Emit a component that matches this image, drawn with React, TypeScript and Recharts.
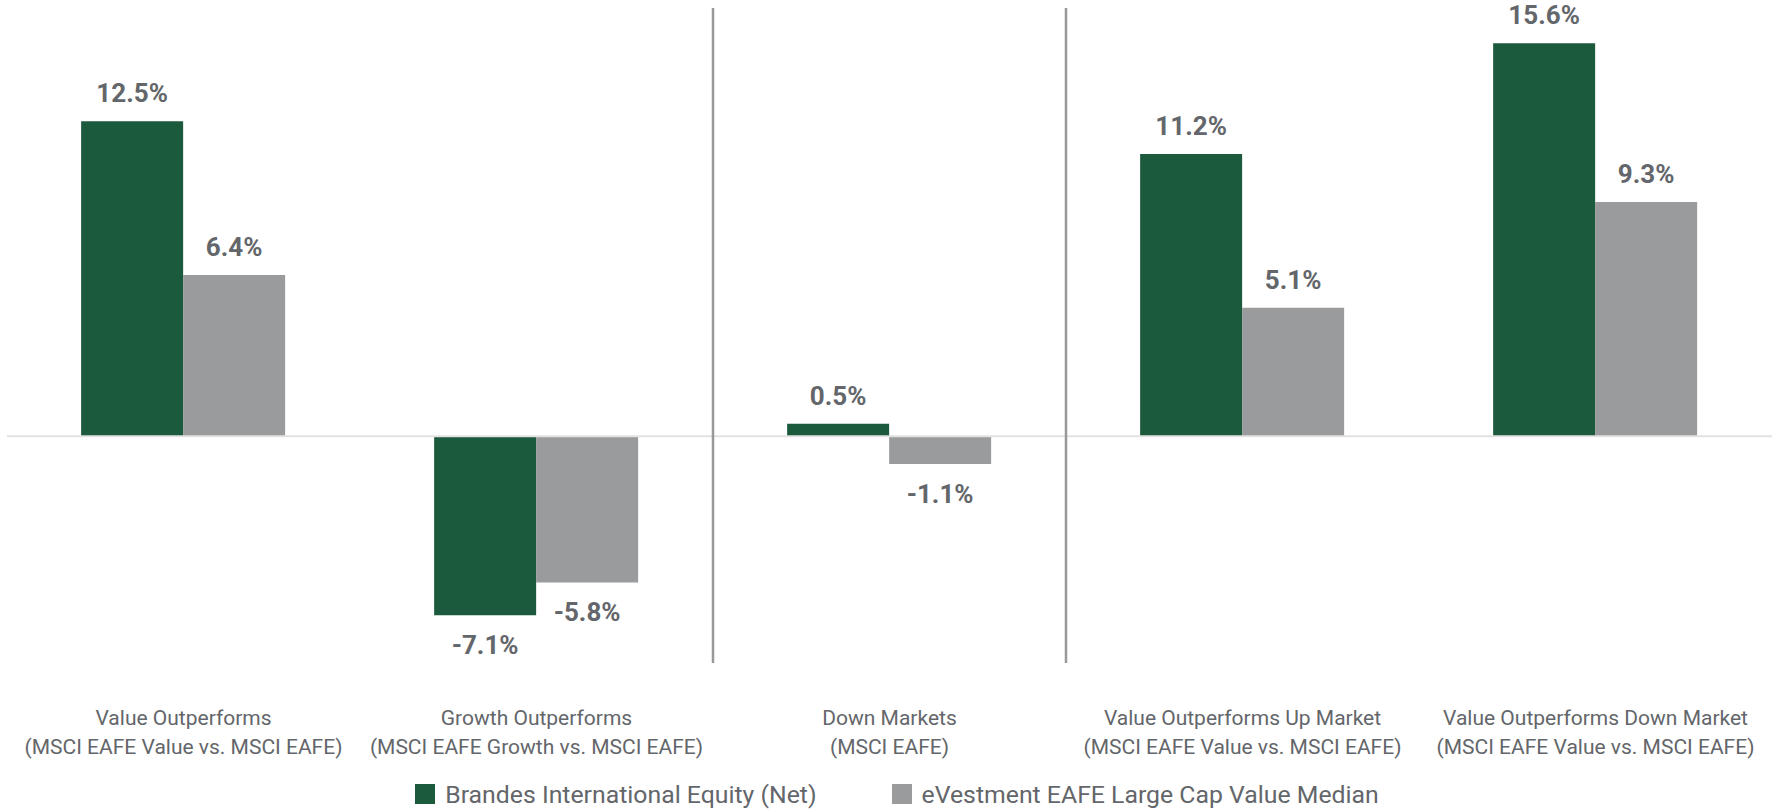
import React from "react";
import {
    Bar,
    BarChart,
    LabelList,
    Legend,
    ReferenceLine,
    XAxis,
    YAxis,
} from "recharts";

const categoryTitles = [
    "Value Outperforms",
    "Growth Outperforms",
    "Down Markets",
    "Value Outperforms Up Market",
    "Value Outperforms Down Market",
];

const categorySubtitles = [
    "(MSCI EAFE Value vs. MSCI EAFE)",
    "(MSCI EAFE Growth vs. MSCI EAFE)",
    "(MSCI EAFE)",
    "(MSCI EAFE Value vs. MSCI EAFE)",
    "(MSCI EAFE Value vs. MSCI EAFE)",
];

const brandesValues = [12.5, -7.1, 0.5, 11.2, 15.6];
const medianValues = [6.4, -5.8, -1.1, 5.1, 9.3];

const seriesNames = [
    "Brandes International Equity (Net)",
    "eVestment EAFE Large Cap Value Median",
];

// dividers drawn at the left edge of these categories
const separatorBefore = [categoryTitles[2], categoryTitles[3]];

const GREEN = "#1c5a3e";
const GRAY = "#9a9b9c";
const TEXT = "#63666a";

const chartData = categoryTitles.map((title, i) => ({
    name: title,
    brandes: brandesValues[i],
    median: medianValues[i],
}));

function CategoryTick(props: any) {
    const { x, y, payload } = props;
    const idx = categoryTitles.indexOf(payload.value);
    return (
        <text
            x={x}
            y={y}
            textAnchor="middle"
            fill={TEXT}
            fontSize={21}
            fontFamily="Roboto, sans-serif"
        >
            <tspan x={x} dy={62}>
                {categoryTitles[idx]}
            </tspan>
            <tspan x={x} dy={28.5}>
                {categorySubtitles[idx]}
            </tspan>
        </text>
    );
}

function ValueLabel(props: any) {
    const { x, y, width, height, value } = props;
    const top = Math.min(y, y + height);
    const bottom = Math.max(y, y + height);
    const cx = x + width / 2;
    const ty = value >= 0 ? top - 19 : bottom + 39;
    return (
        <text
            x={cx}
            y={ty}
            textAnchor="middle"
            fill={TEXT}
            fontSize={26}
            fontWeight={700}
            fontFamily="Roboto, sans-serif"
        >
            {value.toFixed(1)}%
        </text>
    );
}

function ChartLegend() {
    const colors = [GREEN, GRAY];
    return (
        <div
            style={{
                height: 30,
                display: "flex",
                justifyContent: "center",
                alignItems: "center",
                gap: 75,
                paddingLeft: 15,
                fontFamily: "Roboto, sans-serif",
                fontSize: 24.8,
                color: TEXT,
            }}
        >
            {seriesNames.map((name, i) => (
                <div
                    key={name}
                    style={{ display: "flex", alignItems: "center", gap: 10 }}
                >
                    <span
                        style={{
                            width: 20,
                            height: 20,
                            background: colors[i],
                            display: "inline-block",
                        }}
                    />
                    <span>{name}</span>
                </div>
            ))}
        </div>
    );
}

export default function App() {
    return (
        <div
            style={{
                position: "absolute",
                left: 0,
                top: 0,
                width: 1777,
                height: 809,
                background: "#ffffff",
            }}
        >
            <BarChart
                width={1777}
                height={809}
                data={chartData}
                margin={{ top: 8, right: 5, left: 7, bottom: 0 }}
                barCategoryGap="21%"
                barGap={0}
            >
                <XAxis
                    dataKey="name"
                    height={116}
                    axisLine={false}
                    tickLine={false}
                    tickSize={0}
                    tickMargin={0}
                    interval={0}
                    tick={<CategoryTick />}
                />
                <YAxis hide domain={[-9, 17]} />

                <ReferenceLine y={0} stroke="#e2e2e2" strokeWidth={2} />
                {separatorBefore.map((cat) => (
                    <ReferenceLine
                        key={cat}
                        x={cat}
                        position="start"
                        stroke="#999999"
                        strokeWidth={2.5}
                    />
                ))}

                <Bar
                    dataKey="brandes"
                    name={seriesNames[0]}
                    fill={GREEN}
                    isAnimationActive={false}
                >
                    <LabelList dataKey="brandes" content={<ValueLabel />} />
                </Bar>
                <Bar
                    dataKey="median"
                    name={seriesNames[1]}
                    fill={GRAY}
                    isAnimationActive={false}
                >
                    <LabelList dataKey="median" content={<ValueLabel />} />
                </Bar>

                <Legend
                    verticalAlign="bottom"
                    height={30}
                    content={<ChartLegend />}
                />
            </BarChart>
        </div>
    );
}
